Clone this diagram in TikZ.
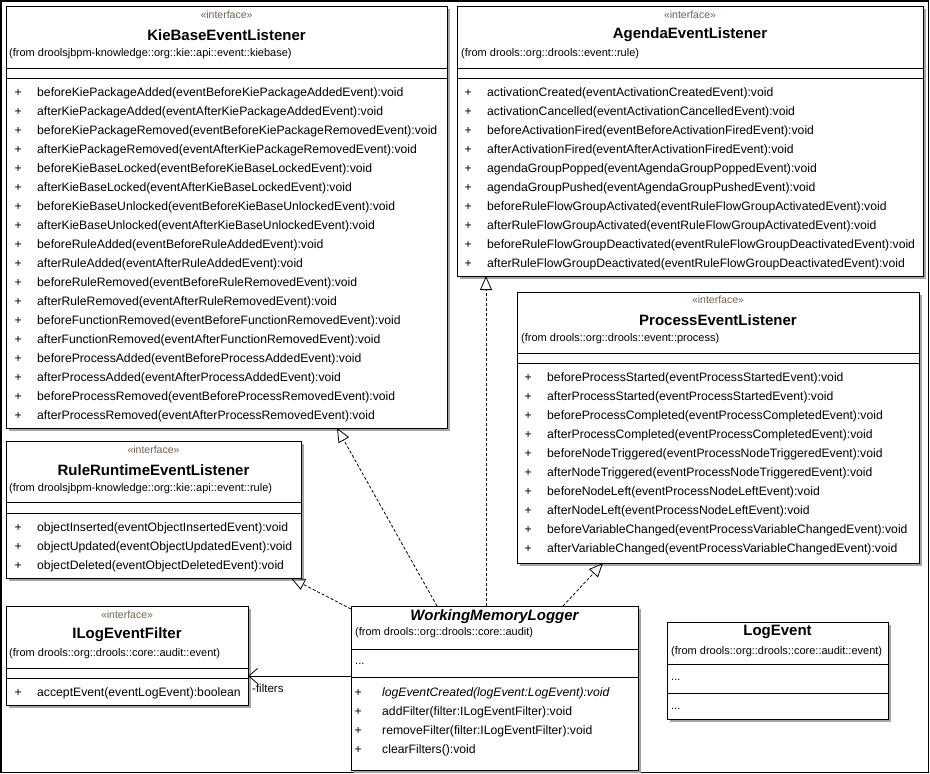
\documentclass[tikz,border=0pt]{standalone}
\usepackage{fontspec}
\setmainfont{Liberation Sans}
\usetikzlibrary{arrows.meta}
\definecolor{stereocol}{RGB}{115,95,75}
\definecolor{shadowcol}{RGB}{165,165,165}
\tikzset{
  classbox/.style={draw=black, fill=white, line width=1pt, inner sep=0pt, outer sep=0pt, anchor=north west},
  stereo/.style={font=\fontsize{10.5}{12}\selectfont, text=stereocol, inner sep=0pt},
  ctitle/.style={font=\fontsize{15}{17}\selectfont\bfseries, inner sep=0pt},
  fromtxt/.style={font=\fontsize{11}{13}\selectfont, inner sep=0pt, anchor=west},
  meth/.style={font=\fontsize{12.2}{14}\selectfont, inner sep=0pt, anchor=west, text height=9pt, text depth=3pt},
  sepline/.style={line width=1pt},
  realize/.style={line width=0.8pt, dash pattern=on 3pt off 2pt, -{Triangle[open, length=14pt, width=12pt, line width=0.8pt]}},
  navig/.style={line width=0.8pt, -{Straight Barb[length=9pt, width=15pt, line width=0.8pt]}},
}
\newcommand\umlclassbox[5]{%
  \fill[shadowcol] (#2+3,#3+3) rectangle (#4+3,#5+3);
  \node[classbox, minimum width=#4-#2, minimum height=#5-#3] (#1) at (#2,#3) {};}
\begin{document}
\begin{tikzpicture}[x=1pt,y=-1pt]
\useasboundingbox (0,0) rectangle (930,774);
\draw[line width=1.6pt] (1,1) rectangle (928.5,772.5);

% ---------------- KieBaseEventListener
\umlclassbox{kie}{6}{6}{447}{428}
\node[stereo] (kie-st) at (226.5,15) {«interface»};
\node[ctitle] (kie-t) at (226.5,35) {KieBaseEventListener};
\node[fromtxt] (kie-f) at (9,54) {(from droolsjbpm-knowledge::org::kie::api::event::kiebase)};
\draw[sepline] (kie.west |- 0,68) -- (kie.east |- 0,68);
\draw[sepline] (kie.west |- 0,78) -- (kie.east |- 0,78);
\foreach \t [count=\i] in {
 {beforeKiePackageAdded(eventBeforeKiePackageAddedEvent):void},
 {afterKiePackageAdded(eventAfterKiePackageAddedEvent):void},
 {beforeKiePackageRemoved(eventBeforeKiePackageRemovedEvent):void},
 {afterKiePackageRemoved(eventAfterKiePackageRemovedEvent):void},
 {beforeKieBaseLocked(eventBeforeKieBaseLockedEvent):void},
 {afterKieBaseLocked(eventAfterKieBaseLockedEvent):void},
 {beforeKieBaseUnlocked(eventBeforeKieBaseUnlockedEvent):void},
 {afterKieBaseUnlocked(eventAfterKieBaseUnlockedEvent):void},
 {beforeRuleAdded(eventBeforeRuleAddedEvent):void},
 {afterRuleAdded(eventAfterRuleAddedEvent):void},
 {beforeRuleRemoved(eventBeforeRuleRemovedEvent):void},
 {afterRuleRemoved(eventAfterRuleRemovedEvent):void},
 {beforeFunctionRemoved(eventBeforeFunctionRemovedEvent):void},
 {afterFunctionRemoved(eventAfterFunctionRemovedEvent):void},
 {beforeProcessAdded(eventBeforeProcessAddedEvent):void},
 {afterProcessAdded(eventAfterProcessAddedEvent):void},
 {beforeProcessRemoved(eventBeforeProcessRemovedEvent):void},
 {afterProcessRemoved(eventAfterProcessRemovedEvent):void}}
{
  \node[meth] (kie-p\i) at (14.5,74+19*\i) {+};
  \node[meth] (kie-m\i) at (37,74+19*\i) {\t};
}

% ---------------- AgendaEventListener
\umlclassbox{ag}{457}{6}{923}{276}
\node[stereo] (ag-st) at (690,15) {«interface»};
\node[ctitle] (ag-t) at (690,35) {AgendaEventListener};
\node[fromtxt] (ag-f) at (461,54) {(from drools::org::drools::event::rule)};
\draw[sepline] (ag.west |- 0,68) -- (ag.east |- 0,68);
\draw[sepline] (ag.west |- 0,78) -- (ag.east |- 0,78);
\foreach \t [count=\i] in {
 {activationCreated(eventActivationCreatedEvent):void},
 {activationCancelled(eventActivationCancelledEvent):void},
 {beforeActivationFired(eventBeforeActivationFiredEvent):void},
 {afterActivationFired(eventAfterActivationFiredEvent):void},
 {agendaGroupPopped(eventAgendaGroupPoppedEvent):void},
 {agendaGroupPushed(eventAgendaGroupPushedEvent):void},
 {beforeRuleFlowGroupActivated(eventRuleFlowGroupActivatedEvent):void},
 {afterRuleFlowGroupActivated(eventRuleFlowGroupActivatedEvent):void},
 {beforeRuleFlowGroupDeactivated(eventRuleFlowGroupDeactivatedEvent):void},
 {afterRuleFlowGroupDeactivated(eventRuleFlowGroupDeactivatedEvent):void}}
{
  \node[meth] (ag-p\i) at (464.5,74+19*\i) {+};
  \node[meth] (ag-m\i) at (487,74+19*\i) {\t};
}

% ---------------- ProcessEventListener
\umlclassbox{pr}{517}{292}{919}{563}
\node[stereo] (pr-st) at (718,300) {«interface»};
\node[ctitle] (pr-t) at (718,320) {ProcessEventListener};
\node[fromtxt] (pr-f) at (521,339) {(from drools::org::drools::event::process)};
\draw[sepline] (pr.west |- 0,353) -- (pr.east |- 0,353);
\draw[sepline] (pr.west |- 0,363) -- (pr.east |- 0,363);
\foreach \t [count=\i] in {
 {beforeProcessStarted(eventProcessStartedEvent):void},
 {afterProcessStarted(eventProcessStartedEvent):void},
 {beforeProcessCompleted(eventProcessCompletedEvent):void},
 {afterProcessCompleted(eventProcessCompletedEvent):void},
 {beforeNodeTriggered(eventProcessNodeTriggeredEvent):void},
 {afterNodeTriggered(eventProcessNodeTriggeredEvent):void},
 {beforeNodeLeft(eventProcessNodeLeftEvent):void},
 {afterNodeLeft(eventProcessNodeLeftEvent):void},
 {beforeVariableChanged(eventProcessVariableChangedEvent):void},
 {afterVariableChanged(eventProcessVariableChangedEvent):void}}
{
  \node[meth] (pr-p\i) at (524.5,359+19*\i) {+};
  \node[meth] (pr-m\i) at (547,359+19*\i) {\t};
}

% ---------------- RuleRuntimeEventListener
\umlclassbox{rr}{6}{441}{301}{578}
\node[stereo] (rr-st) at (153.5,450) {«interface»};
\node[ctitle] (rr-t) at (153.5,470) {RuleRuntimeEventListener};
\node[fromtxt] (rr-f) at (9,489) {(from droolsjbpm-knowledge::org::kie::api::event::rule)};
\draw[sepline] (rr.west |- 0,502) -- (rr.east |- 0,502);
\draw[sepline] (rr.west |- 0,513) -- (rr.east |- 0,513);
\foreach \t [count=\i] in {
 {objectInserted(eventObjectInsertedEvent):void},
 {objectUpdated(eventObjectUpdatedEvent):void},
 {objectDeleted(eventObjectDeletedEvent):void}}
{
  \node[meth] (rr-p\i) at (14.5,509+19*\i) {+};
  \node[meth] (rr-m\i) at (37,509+19*\i) {\t};
}

% ---------------- ILogEventFilter
\umlclassbox{fl}{6}{606}{248}{705}
\node[stereo] (fl-st) at (127,615) {«interface»};
\node[ctitle] (fl-t) at (127,635) {ILogEventFilter};
\node[fromtxt] (fl-f) at (9,654) {(from drools::org::drools::core::audit::event)};
\draw[sepline] (fl.west |- 0,668) -- (fl.east |- 0,668);
\draw[sepline] (fl.west |- 0,678) -- (fl.east |- 0,678);
\node[meth] (fl-p1) at (14.5,693) {+};
\node[meth] (fl-m1) at (37,693) {acceptEvent(eventLogEvent):boolean};

% ---------------- WorkingMemoryLogger
\umlclassbox{wml}{351}{606}{638}{770}
\node[ctitle, font=\fontsize{15}{17}\selectfont\bfseries\itshape] (wml-t) at (494.5,617) {WorkingMemoryLogger};
\node[fromtxt] (wml-f) at (355,633) {(from drools::org::drools::core::audit)};
\draw[sepline] (wml.west |- 0,649) -- (wml.east |- 0,649);
\node[fromtxt] (wml-a) at (355,664) {...};
\draw[sepline] (wml.west |- 0,677) -- (wml.east |- 0,677);
\node[meth] (wml-p1) at (354.5,693) {+};
\node[meth, font=\fontsize{12.2}{14}\selectfont\itshape] (wml-m1) at (382,693) {logEventCreated(logEvent:LogEvent):void};
\node[meth] (wml-p2) at (354.5,712) {+};
\node[meth] (wml-m2) at (382,712) {addFilter(filter:ILogEventFilter):void};
\node[meth] (wml-p3) at (354.5,731) {+};
\node[meth] (wml-m3) at (382,731) {removeFilter(filter:ILogEventFilter):void};
\node[meth] (wml-p4) at (354.5,750) {+};
\node[meth] (wml-m4) at (382,750) {clearFilters():void};

% ---------------- LogEvent
\umlclassbox{le}{667}{622}{888}{719}
\node[ctitle] (le-t) at (777.5,632) {LogEvent};
\node[fromtxt] (le-f) at (671,652) {(from drools::org::drools::core::audit::event)};
\draw[sepline] (le.west |- 0,664) -- (le.east |- 0,664);
\node[fromtxt] (le-a) at (671,680) {...};
\draw[sepline] (le.west |- 0,693) -- (le.east |- 0,693);
\node[fromtxt] (le-o) at (671,709) {...};

% ---------------- connectors
\coordinate (wmlK) at (437,606);
\coordinate (kieT) at (337,428);
\coordinate (wmlA) at (486,606);
\coordinate (agT) at (486,276);
\coordinate (wmlR) at (351,609);
\coordinate (rrT) at (291,578);
\coordinate (wmlP) at (563,606);
\coordinate (prT) at (603,563);
\coordinate (wmlF) at (351,676);
\coordinate (flT) at (248,676);
\draw[realize] (wmlK) -- (kieT);
\draw[realize] (wmlA) -- (agT);
\draw[realize] (wmlR) -- (rrT);
\draw[realize] (wmlP) -- (prT);
\draw[navig] (wmlF) -- (flT);
\node[fromtxt, font=\fontsize{11.5}{13}\selectfont] (filters) at (252,688) {-filters};
\end{tikzpicture}
\end{document}
